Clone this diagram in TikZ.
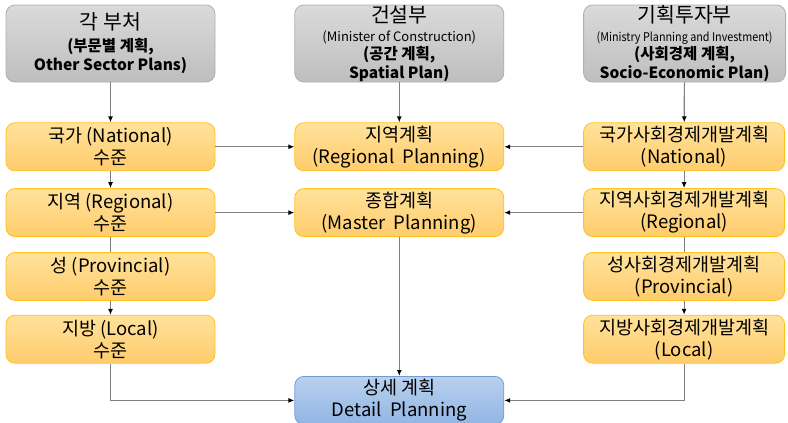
\documentclass[tikz,border=0pt]{standalone}
\usepackage{fontspec}
\setmainfont{Noto Sans CJK KR}
\usepackage{xcolor}
\usetikzlibrary{positioning}
\usetikzlibrary{arrows.meta}
\definecolor{lineGray}{RGB}{128,128,128}
\definecolor{grayTop}{RGB}{218,218,218}
\definecolor{grayBottom}{RGB}{190,190,190}
\definecolor{grayEdge}{RGB}{175,175,175}
\definecolor{yellowTop}{RGB}{255,226,155}
\definecolor{yellowBottom}{RGB}{255,204,108}
\definecolor{yellowEdge}{RGB}{255,194,30}
\definecolor{blueTop}{RGB}{185,208,238}
\definecolor{blueBottom}{RGB}{145,182,228}
\definecolor{blueEdge}{RGB}{115,155,212}
\newcommand{\bigtitle}{\fontsize{20.5}{18.5}\selectfont}
\newcommand{\boldsub}{\fontsize{15.5}{18.5}\selectfont\bfseries}
\newcommand{\smallsub}{\fontsize{13}{18.5}\selectfont}
\tikzset{
	box/.style={
		rectangle,
		align=center,
		rounded corners=9pt,
		inner sep=0pt,
		line width=0.8pt,
		font=\fontsize{18.5}{22}\selectfont
	},
	ministrybox/.style={box, draw=grayEdge, top color=grayTop, bottom color=grayBottom, minimum width=209pt, minimum height=77pt, font=\fontsize{15.5}{18.5}\selectfont},
	planbox/.style={box, draw=yellowEdge, top color=yellowTop, bottom color=yellowBottom, minimum width=209pt, minimum height=48pt},
	detailbox/.style={box, draw=blueEdge, top color=blueTop, bottom color=blueBottom, minimum width=209pt, minimum height=48pt},
	flow/.style={draw=lineGray, line width=1.2pt, -{Latex[length=6pt,width=5pt,color=black]}},
	link/.style={draw=lineGray, line width=1.2pt}
}

\begin{document}
\begin{tikzpicture}[x=1pt, y=1pt]
	\useasboundingbox (0,0) rectangle (788,-423);
	% ministries
	\draw node[ministrybox] (Sector) at (110.5,-43.5) {{\bigtitle 각 부처}\\[3pt] {\boldsub (부문별 계획,}\\[1pt] {\boldsub Other Sector Plans)}};
	\draw node[ministrybox, right=79pt of Sector] (Construction) {{\bigtitle 건설부}\\ {\smallsub (Minister of Construction)}\\ {\boldsub (공간 계획,}\\ {\boldsub Spatial Plan)}};
	\draw node[ministrybox, minimum width=202pt, right=79pt of Construction] (Investment) {{\bigtitle 기획투자부}\\ {\fontsize{12}{14}\selectfont\scalebox{0.9}[1]{(Ministry Planning and Investment)}}\\ {\boldsub (사회경제 계획,}\\ {\boldsub Socio-Economic Plan)}};
	
	% sector levels
	\draw node[planbox, below=40pt of Sector] (National) {국가 (National)\\ 수준};
	\draw node[planbox, below=17pt of National] (Regional) {지역 (Regional)\\ 수준};
	\draw node[planbox, below=15pt of Regional] (Provincial) {성 (Provincial)\\ 수준};
	\draw node[planbox, below=14pt of Provincial] (Local) {지방 (Local)\\ 수준};
	
	% spatial plans
	\draw node[planbox, right=79pt of National] (RegionalPlan) {지역계획\\ (Regional\ \ Planning)};
	\draw node[planbox, right=79pt of Regional] (MasterPlan) {종합계획\\ (Master\ \ Planning)};
	\draw node[detailbox, below=139pt of MasterPlan] (Detail) {상세\ 계획\\ Detail\ \ Planning};
	
	% socio-economic plans
	\draw node[planbox, minimum width=201pt, right=79pt of RegionalPlan] (NationalSE) {국가사회경제개발계획\\ (National)};
	\draw node[planbox, minimum width=201pt, right=79pt of MasterPlan] (RegionalSE) {지역사회경제개발계획\\ (Regional)};
	\draw node[planbox, minimum width=201pt, below=15pt of RegionalSE] (ProvincialSE) {성사회경제개발계획\\ (Provincial)};
	\draw node[planbox, minimum width=201pt, below=14pt of ProvincialSE] (LocalSE) {지방사회경제개발계획\\ (Local)};
	
	\draw [flow] (Sector) -- (National);
	\draw [flow] (National) -- (Regional);
	\draw [link] (Regional) -- (Provincial);
	\draw [flow] (Provincial) -- (Local);
	\draw [flow] (Local) |- (Detail);
	
	\draw [flow] (Investment) -- (NationalSE);
	\draw [flow] (NationalSE) -- (RegionalSE);
	\draw [link] (RegionalSE) -- (ProvincialSE);
	\draw [flow] (ProvincialSE) -- (LocalSE);
	\draw [flow] (LocalSE) |- (Detail);
	
	\draw [flow] (Construction) -- (RegionalPlan);
	\draw [flow] (National) -- (RegionalPlan);
	\draw [flow] (NationalSE) -- (RegionalPlan);
	\draw [flow] (Regional) -- (MasterPlan);
	\draw [flow] (RegionalSE) -- (MasterPlan);
	\draw [flow] (MasterPlan) -- (Detail);
\end{tikzpicture}
\end{document}
